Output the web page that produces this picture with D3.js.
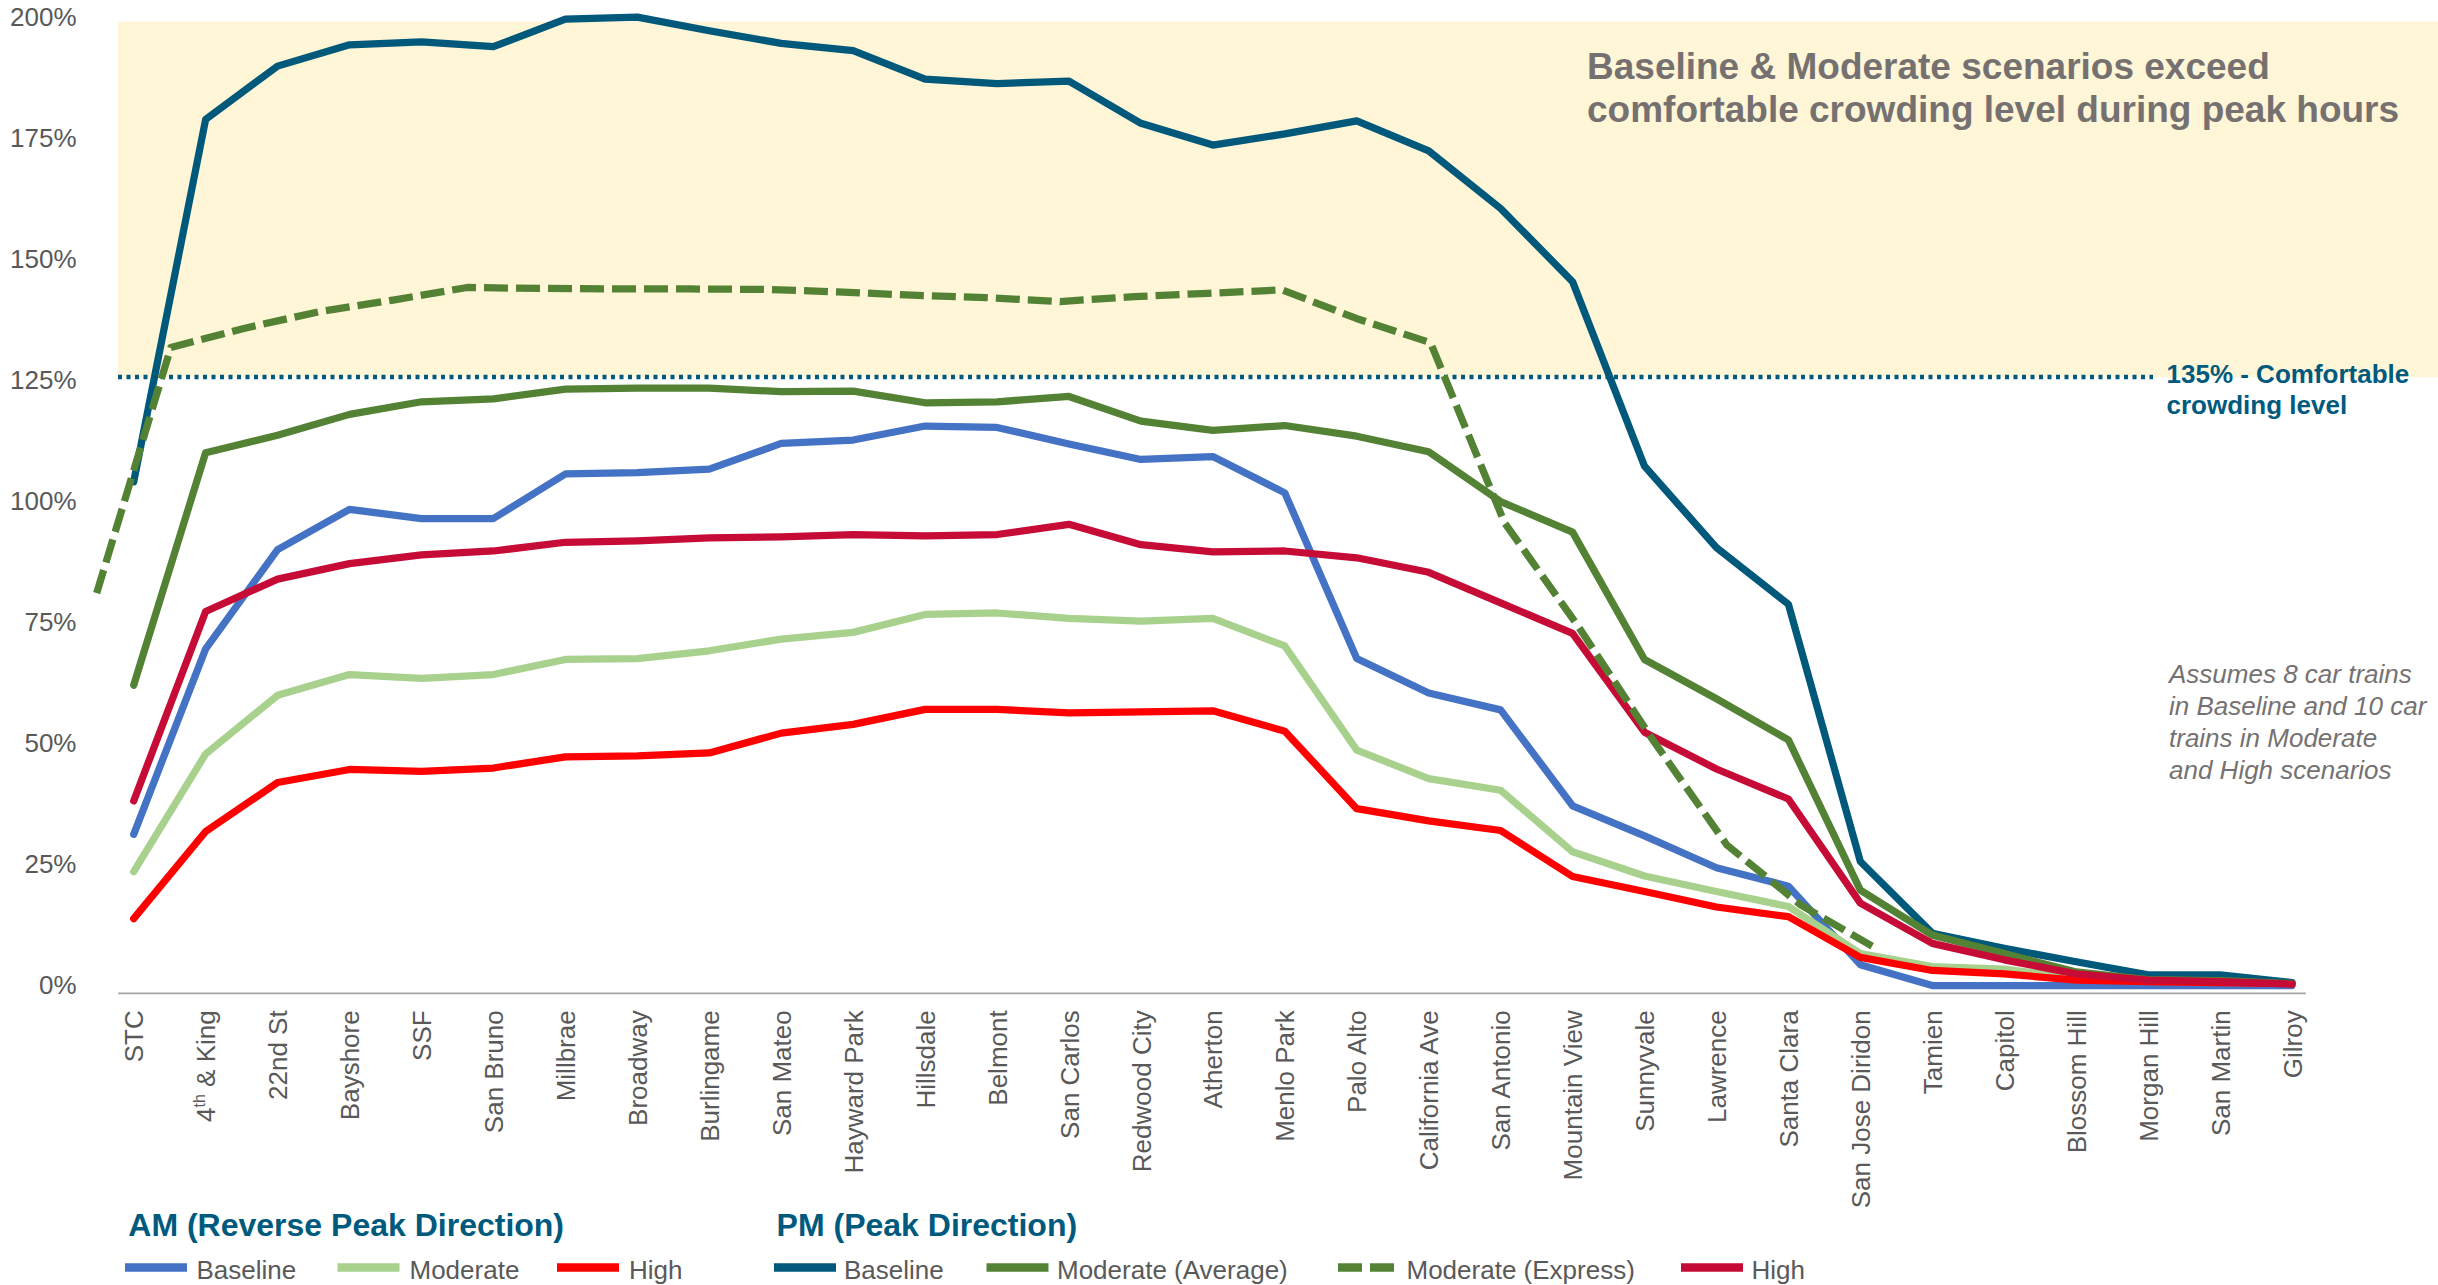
<!DOCTYPE html>
<html>
<head>
<meta charset="utf-8">
<script src="https://cdn.jsdelivr.net/npm/d3@7/dist/d3.min.js"></script>
<style>
  html, body { margin: 0; padding: 0; background: #ffffff; }
  svg { display: block; font-family: "Liberation Sans", Arial, Helvetica, sans-serif; }
</style>
</head>
<body>
<svg id="chart" width="2438" height="1285"></svg>
<script>
// ---------------- DATA ----------------
const stations = ["STC","4th & King","22nd St","Bayshore","SSF","San Bruno","Millbrae","Broadway",
  "Burlingame","San Mateo","Hayward Park","Hillsdale","Belmont","San Carlos","Redwood City","Atherton",
  "Menlo Park","Palo Alto","California Ave","San Antonio","Mountain View","Sunnyvale","Lawrence",
  "Santa Clara","San Jose Diridon","Tamien","Capitol","Blossom Hill","Morgan Hill","San Martin","Gilroy"];

// AM (Reverse Peak Direction), % of seated capacity
const amBaseline = [31.2,69.5,90.0,98.3,96.4,96.4,105.6,105.9,106.6,111.9,112.6,115.5,115.2,111.8,108.6,109.2,
  101.7,67.5,60.4,56.9,37.1,30.9,24.3,20.5,4.3,0,0,0,0,0,0];
const amModerate = [23.5,47.8,59.9,64.2,63.4,64.2,67.3,67.5,69.1,71.5,72.9,76.6,76.9,75.8,75.2,75.8,
  70.1,48.6,42.7,40.3,27.6,22.6,19.4,16.3,6.6,3.9,3.4,1.5,1.0,0.8,0.5];
const amHigh = [13.8,31.8,41.9,44.6,44.2,44.9,47.2,47.4,48.0,52.1,53.9,57.0,57.0,56.3,56.5,56.7,
  52.5,36.5,34.0,32.0,22.5,19.4,16.2,14.2,5.8,3.1,2.4,1.1,0.8,0.6,0.4];

// PM (Peak Direction)
const pmBaseline = [104,178.8,189.8,194.2,194.8,193.8,199.5,199.9,197.1,194.5,193.0,187.1,186.2,186.7,178.0,173.5,
  175.8,178.5,172.3,160.4,145.3,107.2,90.4,78.7,25.6,10.8,7.7,4.9,2.2,2.2,0.6];
const pmModerateAvg = [62.0,110.0,113.6,117.9,120.5,121.1,123.1,123.3,123.3,122.6,122.7,120.3,120.5,121.6,116.5,114.6,
  115.6,113.4,110.2,99.9,93.6,67.3,59.2,50.7,19.7,10.4,6.6,2.8,1.2,1.0,0.4];
const pmModerateExpress = [81.0,131.7,135.7,139.1,141.5,144.1,143.9,143.8,143.8,143.7,143.2,142.5,142.0,141.2,142.2,142.9,
  143.6,137.7,132.7,95.5,74.0,50.7,29.0,16.6,7.8,null,null,null,null,null,null];
const pmHigh = [38.1,77.2,83.9,87.1,88.9,89.7,91.5,91.8,92.4,92.6,93.1,92.8,93.1,95.2,91.0,89.5,
  89.7,88.3,85.3,79.0,72.7,52.3,44.7,38.5,17.0,8.7,5.3,2.4,1.1,0.8,0.3];

const yTicks = [0,25,50,75,100,125,150,175,200];
const comfortLine = 125.6;   // plotted position of the "135% - Comfortable crowding level" line
const bandTop = 199;         // top of shaded "exceed" band

const annotationLines = ["Baseline & Moderate scenarios exceed", "comfortable crowding level during peak hours"];
const comfortLabel = ["135% - Comfortable", "crowding level"];
const noteLines = ["Assumes 8 car trains", "in Baseline and 10 car", "trains in Moderate", "and High scenarios"];

const amTitle = "AM (Reverse Peak Direction)";
const pmTitle = "PM (Peak Direction)";

// ---------------- STYLES ----------------
const C = {
  amBase: "#4472C4", amMod: "#A9D18E", amHigh: "#FF0000",
  pmBase: "#00587A", pmMod: "#548235", pmHigh: "#C50B36",
  teal: "#005A7D", grayText: "#595959", noteGray: "#767171", band: "#FFF5D7", axis: "#A6A6A6"
};

const series = [
  {key:"amBaseline", values: amBaseline, color: C.amBase, dashed:false, overlay:false},
  {key:"amModerate", values: amModerate, color: C.amMod, dashed:false, overlay:false},
  {key:"amHigh", values: amHigh, color: C.amHigh, dashed:false, overlay:false},
  {key:"pmBaseline", values: pmBaseline, color: C.pmBase, dashed:false, overlay:false},
  {key:"pmModerateAvg", values: pmModerateAvg, color: C.pmMod, dashed:false, overlay:false},
  {key:"pmHigh", values: pmHigh, color: C.pmHigh, dashed:false, overlay:false},
  {key:"pmModerateExpress", values: pmModerateExpress, color: C.pmMod, dashed:true, overlay:true}
];

// ---------------- SCALES ----------------
const svg = d3.select("#chart");
const x = d3.scalePoint().domain(stations).range([133.7, 2292]);
const xOverlay = d3.scalePoint().domain(stations).range([96.7, 2319.7]); // express series sits on a slightly wider overlay
const y = d3.scaleLinear().domain([0, 200]).range([985.5, 16.7]);

const plotLeft = 118, axisRight = 2306, axisY = 993.3;

// shaded band
svg.append("rect")
  .attr("x", plotLeft).attr("y", y(bandTop))
  .attr("width", 2438 - plotLeft).attr("height", y(comfortLine) - y(bandTop))
  .attr("fill", C.band);

// comfortable line
svg.append("line")
  .attr("x1", plotLeft).attr("x2", 2153)
  .attr("y1", y(comfortLine)).attr("y2", y(comfortLine))
  .attr("stroke", C.teal).attr("stroke-width", 4.5)
  .attr("stroke-dasharray", "4 4.5");

// y axis
const yAxis = svg.append("g")
  .attr("transform", `translate(${plotLeft},0)`)
  .call(d3.axisLeft(y).tickValues(yTicks).tickFormat(d => d + "%").tickSize(0).tickPadding(41.5));
yAxis.select(".domain").remove();
yAxis.selectAll("text")
  .attr("fill", C.grayText).style("font-size", "26px")
  .style("font-family", '"Liberation Sans", Arial, sans-serif');

// x axis
const xAxis = svg.append("g")
  .attr("transform", `translate(0,${axisY})`)
  .call(d3.axisBottom(x).tickSize(0));
xAxis.select(".domain").remove();
xAxis.selectAll("text")
  .attr("x", 0).attr("y", 0).attr("dy", "0.35em")
  .attr("transform", "translate(0,17) rotate(-90)")
  .style("text-anchor", "end")
  .attr("fill", C.grayText).style("font-size", "26px")
  .style("font-family", '"Liberation Sans", Arial, sans-serif')
  .each(function(d) {
    if (d === "4th & King") {
      const t = d3.select(this);
      t.text(null);
      t.append("tspan").text("4");
      t.append("tspan").text("th").style("font-size", "16px").attr("dy", -10);
      t.append("tspan").text(" & King").attr("dy", 10);
    }
  });

svg.append("line")
  .attr("x1", plotLeft).attr("x2", axisRight)
  .attr("y1", axisY).attr("y2", axisY)
  .attr("stroke", C.axis).attr("stroke-width", 1.75);

// lines
series.forEach(s => {
  const xs = s.overlay ? xOverlay : x;
  const line = d3.line()
    .defined(d => d.v !== null)
    .x(d => xs(d.st))
    .y(d => y(d.v));
  const data = s.values.map((v, i) => ({st: stations[i], v}));
  svg.append("path")
    .datum(data)
    .attr("d", line)
    .attr("fill", "none")
    .attr("stroke", s.color)
    .attr("stroke-width", 7.25)
    .attr("stroke-linejoin", "round")
    .attr("stroke-linecap", s.dashed ? "butt" : "round")
    .attr("stroke-dasharray", s.dashed ? "24 8" : null);
});

// annotation
const ann = svg.append("text")
  .attr("fill", C.noteGray).style("font-weight", "bold").style("font-size", "37px");
annotationLines.forEach((t, i) => {
  ann.append("tspan").attr("x", 1587).attr("y", 78.5 + i * 43.3).text(t);
});

const cl = svg.append("text")
  .attr("fill", C.teal).style("font-weight", "bold").style("font-size", "26px");
comfortLabel.forEach((t, i) => {
  cl.append("tspan").attr("x", 2166.5).attr("y", 383 + i * 31).text(t);
});

const note = svg.append("text")
  .attr("fill", C.noteGray).style("font-style", "italic").style("font-size", "26px");
noteLines.forEach((t, i) => {
  note.append("tspan").attr("x", 2169).attr("y", 683 + i * 32).text(t);
});

// legend
svg.append("text").attr("x", 128.3).attr("y", 1236)
  .attr("fill", C.teal).style("font-weight", "bold").style("font-size", "32px").text(amTitle);
svg.append("text").attr("x", 776.6).attr("y", 1236)
  .attr("fill", C.teal).style("font-weight", "bold").style("font-size", "32px").text(pmTitle);

const legendItems = [
  {label: "Baseline", color: C.amBase, dashed: false, sx: 125, tx: 196.5},
  {label: "Moderate", color: C.amMod, dashed: false, sx: 337.5, tx: 409.5},
  {label: "High", color: C.amHigh, dashed: false, sx: 557, tx: 629},
  {label: "Baseline", color: C.pmBase, dashed: false, sx: 774, tx: 844},
  {label: "Moderate (Average)", color: C.pmMod, dashed: false, sx: 986.5, tx: 1057},
  {label: "Moderate (Express)", color: C.pmMod, dashed: true, sx: 1338, tx: 1406.5},
  {label: "High", color: C.pmHigh, dashed: false, sx: 1681, tx: 1751.5}
];
const lg = svg.append("g");
legendItems.forEach(it => {
  lg.append("line")
    .attr("x1", it.sx).attr("x2", it.sx + (it.dashed ? 56 : 62))
    .attr("y1", 1267.5).attr("y2", 1267.5)
    .attr("stroke", it.color).attr("stroke-width", 8.3)
    .attr("stroke-dasharray", it.dashed ? "24 8" : null);
  lg.append("text").attr("x", it.tx).attr("y", 1278.6)
    .attr("fill", C.grayText).style("font-size", "26px").text(it.label);
});
</script>
</body>
</html>
